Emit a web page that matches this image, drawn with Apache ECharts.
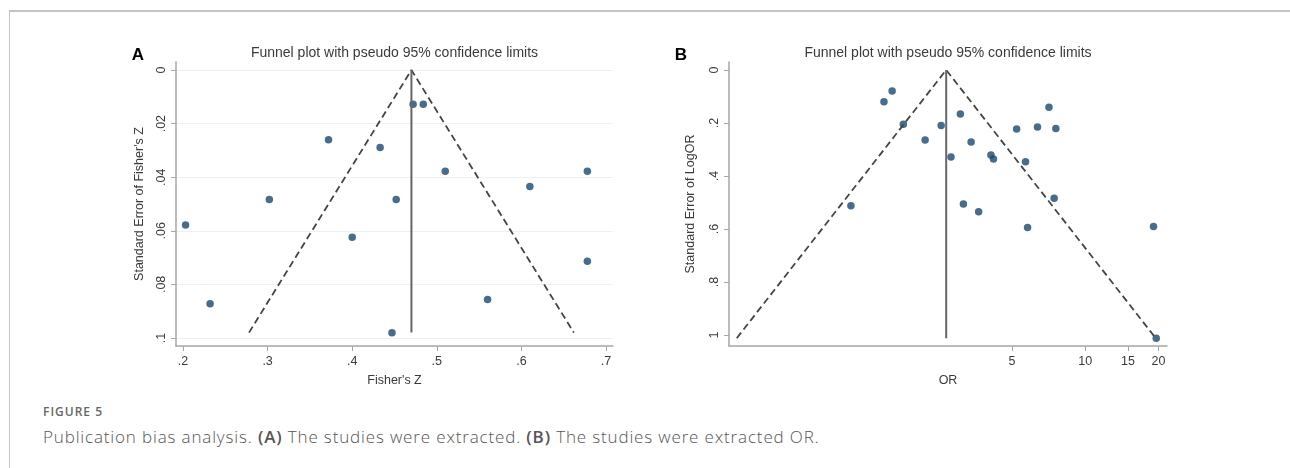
<!DOCTYPE html>
<html>
<head>
<meta charset="utf-8">
<title>Funnel plots</title>
<script src="https://cdn.jsdelivr.net/npm/echarts@6/dist/echarts.min.js"></script>
<style>
  html, body { margin: 0; padding: 0; background: #fff; }
  .page { position: relative; width: 1290px; height: 468px; overflow: hidden; }
  .frame {
    position: absolute; left: 9px; top: 10px; width: 1300px; height: 480px;
    border-left: 1px solid #c4c4c4; border-top: 2px solid #c4c4c4;
  }
  #chart { position: absolute; left: 0; top: 0; width: 1290px; height: 395px; }
  .fig-no {
    position: absolute; left: 43px; top: 403px; letter-spacing: 1px;
    font: 600 12px 'Open Sans', sans-serif; color: #666;
  }
  .caption {
    position: absolute; left: 43px; top: 425px; letter-spacing: 0.85px;
    font: 300 17px 'Open Sans', sans-serif; color: #555;
  }
  .caption b { font-weight: 600; }
</style>
</head>
<body>
<div class="page">
  <div class="frame"></div>
  <div id="chart"></div>
  <div class="fig-no">FIGURE 5</div>
  <div class="caption">Publication bias analysis. <b>(A)</b> The studies were extracted. <b>(B)</b> The studies were extracted OR.</div>
</div>
<script>
// panel A: Fisher's Z and its standard error
const fisherZ = [0.472, 0.484, 0.372, 0.433, 0.510, 0.678, 0.610, 0.302, 0.452, 0.203, 0.400, 0.678, 0.560, 0.232, 0.447];
const seFisherZ = [0.0128, 0.0128, 0.0260, 0.0289, 0.0378, 0.0378, 0.0435, 0.0483, 0.0483, 0.0578, 0.0624, 0.0714, 0.0856, 0.0872, 0.0981];
// pseudo 95% limits (left end, apex, right end) and the pooled line
const funnelAZ = [0.278, 0.47, 0.662];
const funnelASe = [0.098, 0, 0.098];
const pooledAZ = 0.47;
const pooledASeMax = 0.098;
const ticksAX = [0.2, 0.3, 0.4, 0.5, 0.6, 0.7];
const ticksAY = [0, 0.02, 0.04, 0.06, 0.08, 0.1];

// panel B: odds ratios (log scale) and SE of log OR
const orValues = [1.61, 1.49, 1.79, 2.56, 3.07, 2.20, 3.40, 2.81, 4.10, 4.20, 5.23, 6.37, 7.10, 7.58, 5.69, 7.46, 1.09, 3.16, 3.65, 5.80, 19.1, 19.6];
const seLogOR = [0.079, 0.120, 0.205, 0.210, 0.166, 0.264, 0.272, 0.328, 0.321, 0.336, 0.223, 0.215, 0.141, 0.221, 0.346, 0.484, 0.512, 0.506, 0.535, 0.594, 0.591, 1.012];
const funnelBOr = [0.370, 2.685, 19.5];
const funnelBSe = [1.012, 0, 1.012];
const pooledBOr = 2.685;
const pooledBSeMax = 1.012;
const ticksBX = [5, 10, 15, 20];
const ticksBY = [0, 0.2, 0.4, 0.6, 0.8, 1];

const FONT = "'Liberation Sans', Arial, sans-serif";
const dotColor = '#1a476f';
const axisGrey = '#a6a6a6';
const textGrey = '#3a3a3a';

// stata style tick labels: ".02" instead of "0.02"
function stataNum(v) {
  const s = String(+v.toFixed(4));
  return s.replace(/^0\./, '.');
}

function baseAxis(extra) {
  return Object.assign({
    type: 'value',
    axisLine: { show: true, onZero: false, lineStyle: { color: axisGrey, width: 1.5 } },
    splitLine: { show: false },
    nameTextStyle: { color: textGrey, fontSize: 12.5, fontFamily: FONT },
  }, extra);
}

function ticks(values) {
  return { show: true, length: 5, lineStyle: { color: axisGrey, width: 1 }, customValues: values };
}

const chart = echarts.init(document.getElementById('chart'));
chart.setOption({
  animation: false,
  grid: [
    { left: 176, top: 62, width: 437, height: 284 },
    { left: 729, top: 62, width: 438, height: 284 },
  ],
  xAxis: [
    baseAxis({
      gridIndex: 0, min: 0.1917, max: 0.7083,
      name: "Fisher's Z", nameLocation: 'middle', nameGap: 28,
      axisLabel: { color: textGrey, fontSize: 12.5, fontFamily: FONT, margin: 9,
        customValues: ticksAX, formatter: stataNum },
      axisTick: ticks(ticksAX),
    }),
    baseAxis({
      gridIndex: 1, min: Math.log(0.3438), max: Math.log(21.7),
      name: 'OR', nameLocation: 'middle', nameGap: 28,
      axisLabel: { color: textGrey, fontSize: 12.5, fontFamily: FONT, margin: 9,
        customValues: ticksBX.map(Math.log), formatter: v => String(Math.round(Math.exp(v))) },
      axisTick: ticks(ticksBX.map(Math.log)),
    }),
  ],
  yAxis: [
    baseAxis({
      gridIndex: 0, inverse: true, min: -0.003, max: 0.103,
      name: "Standard Error of Fisher's Z", nameLocation: 'middle', nameGap: 30,
      axisLabel: { color: textGrey, fontSize: 12.5, fontFamily: FONT, rotate: 90, margin: 8,
        customValues: ticksAY, formatter: stataNum },
      axisTick: ticks(ticksAY),
      splitLine: { show: true, lineStyle: { color: '#f0f0f0', width: 1 } },
    }),
    baseAxis({
      gridIndex: 1, inverse: true, min: -0.030, max: 1.0415,
      name: 'Standard Error of LogOR', nameLocation: 'middle', nameGap: 32,
      axisLabel: { color: textGrey, fontSize: 12.5, fontFamily: FONT, rotate: 90, margin: 8,
        customValues: ticksBY, formatter: stataNum },
      axisTick: ticks(ticksBY),
    }),
  ],
  graphic: [
    { type: 'text', x: 138, y: 55, style: { text: 'A', font: 'bold 17px ' + FONT, fill: '#000', textAlign: 'center', textVerticalAlign: 'middle' } },
    { type: 'text', x: 681, y: 55, style: { text: 'B', font: 'bold 17px ' + FONT, fill: '#000', textAlign: 'center', textVerticalAlign: 'middle' } },
    { type: 'text', x: 394.5, y: 53, style: { text: 'Funnel plot with pseudo 95% confidence limits', font: '14px ' + FONT, fill: textGrey, textAlign: 'center', textVerticalAlign: 'middle' } },
    { type: 'text', x: 948, y: 53, style: { text: 'Funnel plot with pseudo 95% confidence limits', font: '14px ' + FONT, fill: textGrey, textAlign: 'center', textVerticalAlign: 'middle' } },
  ],
  series: [
    {
      type: 'line', xAxisIndex: 0, yAxisIndex: 0, silent: true, symbol: 'none',
      data: funnelAZ.map((z, i) => [z, funnelASe[i]]),
      lineStyle: { color: '#444', width: 1.8, type: [7, 4] },
    },
    {
      type: 'line', xAxisIndex: 0, yAxisIndex: 0, silent: true, symbol: 'none',
      data: [[pooledAZ, 0], [pooledAZ, pooledASeMax]],
      lineStyle: { color: '#666', width: 2 },
    },
    {
      type: 'scatter', xAxisIndex: 0, yAxisIndex: 0, symbolSize: 7.5,
      data: fisherZ.map((z, i) => [z, seFisherZ[i]]),
      itemStyle: { color: dotColor },
    },
    {
      type: 'line', xAxisIndex: 1, yAxisIndex: 1, silent: true, symbol: 'none',
      data: funnelBOr.map((o, i) => [Math.log(o), funnelBSe[i]]),
      lineStyle: { color: '#444', width: 1.8, type: [7, 4] },
    },
    {
      type: 'line', xAxisIndex: 1, yAxisIndex: 1, silent: true, symbol: 'none',
      data: [[Math.log(pooledBOr), 0], [Math.log(pooledBOr), pooledBSeMax]],
      lineStyle: { color: '#666', width: 2 },
    },
    {
      type: 'scatter', xAxisIndex: 1, yAxisIndex: 1, symbolSize: 7.5,
      data: orValues.map((o, i) => [Math.log(o), seLogOR[i]]),
      itemStyle: { color: dotColor },
    },
  ],
});
</script>
</body>
</html>
